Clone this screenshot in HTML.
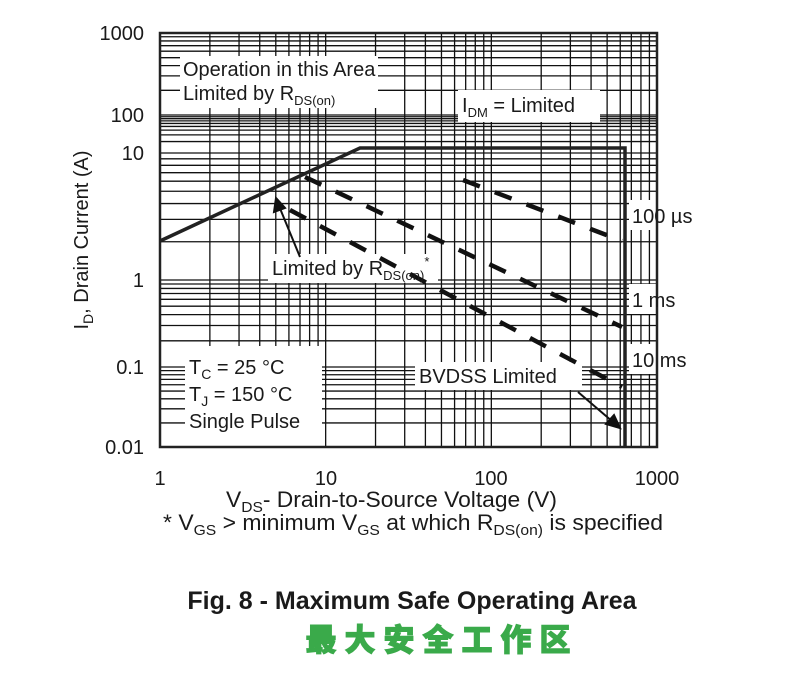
<!DOCTYPE html>
<html><head><meta charset="utf-8"><style>
body{margin:0;background:#fff;width:803px;height:682px;overflow:hidden}
svg text{font-family:"Liberation Sans",Arial,sans-serif;fill:#1a1a1a}
</style></head><body>
<svg id="s" width="803" height="682" xmlns="http://www.w3.org/2000/svg">
<g id="grid" stroke="#111" stroke-width="1.3"></g>
<g fill="#fff">
<rect x="180" y="56" width="198" height="52"/>
<rect x="458" y="90" width="142" height="32"/>
<rect x="268" y="254" width="170" height="29"/>
<rect x="185" y="346" width="137" height="100"/>
<rect x="415" y="362" width="167" height="28"/>
<rect x="629" y="200" width="76" height="30"/>
<rect x="629" y="284" width="62" height="30"/>
<rect x="629" y="344" width="72" height="30"/>
</g>
<rect x="160" y="33" width="497" height="414" fill="none" stroke="#222" stroke-width="2.5"/>
<polyline points="160,241 360,148 625,148 625,447" fill="none" stroke="#222" stroke-width="3.5"/>
<g stroke="#111" stroke-width="4.5" stroke-dasharray="18,16" fill="none">
<line x1="463" y1="180" x2="622" y2="241"/>
<line x1="305" y1="177" x2="622" y2="327"/>
<line x1="290" y1="210" x2="622" y2="387"/>
</g>
<g stroke="#111" stroke-width="2" fill="#111">
<line x1="300" y1="257" x2="279" y2="206"/>
<polygon points="276,198 274,212 285,208"/>
<line x1="578" y1="392" x2="613" y2="422"/>
<polygon points="620,428 606,424 614,415"/>
</g>
<g font-size="20">
<text x="144" y="40" text-anchor="end">1000</text>
<text x="144" y="122" text-anchor="end">100</text>
<text x="144" y="160" text-anchor="end">10</text>
<text x="144" y="287" text-anchor="end">1</text>
<text x="144" y="374" text-anchor="end">0.1</text>
<text x="144" y="454" text-anchor="end">0.01</text>
<text x="160" y="485" text-anchor="middle">1</text>
<text x="326" y="485" text-anchor="middle">10</text>
<text x="491" y="485" text-anchor="middle">100</text>
<text x="657" y="485" text-anchor="middle">1000</text>
<text x="183" y="76">Operation in this Area</text>
<text x="183" y="100">Limited by R<tspan font-size="13" dy="5">DS(on)</tspan></text>
<text x="462" y="112">I<tspan font-size="13" dy="5">DM</tspan><tspan dy="-5"> = Limited</tspan></text>
<text x="272" y="275">Limited by R<tspan font-size="13" dy="5">DS(on)</tspan><tspan font-size="13" dy="-14">*</tspan></text>
<text x="189" y="374">T<tspan font-size="14" dy="5">C</tspan><tspan dy="-5"> = 25 °C</tspan></text>
<text x="189" y="401">T<tspan font-size="14" dy="5">J</tspan><tspan dy="-5"> = 150 °C</tspan></text>
<text x="189" y="428">Single Pulse</text>
<text x="419" y="383">BVDSS Limited</text>
<text x="632" y="223">100 µs</text>
<text x="632" y="307">1 ms</text>
<text x="632" y="367">10 ms</text>
</g>
<g font-size="22">
<text x="226" y="507" textLength="331" lengthAdjust="spacingAndGlyphs">V<tspan font-size="15" dy="5">DS</tspan><tspan dy="-5">- Drain-to-Source Voltage (V)</tspan></text>
<text x="163" y="530" textLength="500" lengthAdjust="spacingAndGlyphs">* V<tspan font-size="15" dy="5">GS</tspan><tspan dy="-5"> &gt; minimum V</tspan><tspan font-size="15" dy="5">GS</tspan><tspan dy="-5">  at which R</tspan><tspan font-size="15" dy="5">DS(on)</tspan><tspan dy="-5"> is specified</tspan></text>
</g>
<text transform="translate(88,240) rotate(-90)" font-size="20" text-anchor="middle">I<tspan font-size="14" dy="5">D</tspan><tspan dy="-5">, Drain Current (A)</tspan></text>
<text x="412" y="609" font-size="25" font-weight="bold" text-anchor="middle">Fig. 8 - Maximum Safe Operating Area</text>
<text x="442" y="651" font-size="31" font-weight="900" text-anchor="middle" letter-spacing="8" style="font-family:'Noto Sans CJK SC','WenQuanYi Zen Hei',sans-serif;fill:#3aaa4a;stroke:#3aaa4a;stroke-width:1">最大安全工作区</text>
</svg>
<script>
var g=document.getElementById('grid'),h='';
var x0=160,dx=(657-160)/3;
for(var d=0;d<3;d++)for(var k=1;k<10;k++){var x=x0+dx*(d+Math.log10(k));h+='<line x1="'+x+'" y1="33" x2="'+x+'" y2="447"/>';}
var ys=[447,367,280,153,115,33];
for(var d=0;d<5;d++)for(var k=1;k<10;k++){var y=ys[d]+(ys[d+1]-ys[d])*Math.log10(k);h+='<line x1="160" y1="'+y+'" x2="657" y2="'+y+'"/>';}
g.innerHTML=h;
</script>
</body></html>
